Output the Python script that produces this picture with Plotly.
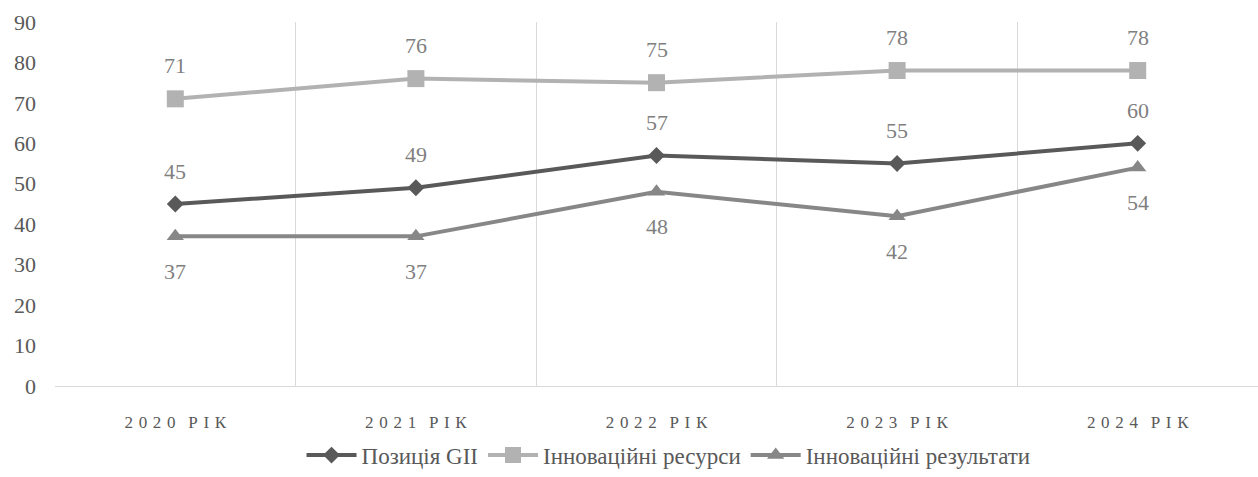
import plotly.graph_objects as go

years = ["2020", "2021", "2022", "2023", "2024"]
suffix = "РІК"

gii_position = [45, 49, 57, 55, 60]
innovation_inputs = [71, 76, 75, 78, 78]
innovation_outputs = [37, 37, 48, 42, 54]

FONT = "serif"
LABEL_COLOR = "#7f7f7f"

# spaced-out axis captions, e.g. "2 0 2 0  Р І К"
SP = "\u2004"
year_labels = [SP.join(y) + "\u2002\u2005" + SP.join(suffix) for y in years]

series = [
    ("Позиція GII", gii_position, "#595959", "diamond", 13, 33),
    ("Інноваційні ресурси", innovation_inputs, "#b2b2b2", "square", 17, 33),
    ("Інноваційні результати", innovation_outputs, "#878787", "triangle-up", 15, -35),
]

fig = go.Figure()
annotations = []
for name, values, color, symbol, size, shift in series:
    fig.add_trace(go.Scatter(
        x=year_labels,
        y=values,
        name=name,
        mode="lines+markers",
        line=dict(color=color, width=4),
        marker=dict(symbol=symbol, size=size, color=color),
    ))
    for xl, v in zip(year_labels, values):
        annotations.append(dict(
            x=xl, y=v, text=str(v), showarrow=False, yshift=shift,
            font=dict(family=FONT, size=22, color=LABEL_COLOR),
        ))

fig.update_layout(
    width=1258,
    height=477,
    margin=dict(l=55, r=0, t=22, b=89),
    paper_bgcolor="white",
    plot_bgcolor="white",
    font=dict(family=FONT, color="#595959"),
    showlegend=True,
    annotations=annotations,
    legend=dict(
        orientation="h",
        x=0.51,
        xanchor="center",
        y=-0.19,
        yanchor="middle",
        font=dict(family=FONT, size=23, color="#595959"),
        itemwidth=50,
    ),
    xaxis=dict(
        type="category",
        range=[-0.5, 4.5],
        tickson="boundaries",
        showgrid=True,
        gridcolor="#d9d9d9",
        gridwidth=1,
        showline=True,
        linecolor="#d9d9d9",
        linewidth=1,
        ticks="",
        ticklabelstandoff=21,
        tickfont=dict(family=FONT, size=17, color="#595959"),
        zeroline=False,
    ),
    yaxis=dict(
        range=[0, 90],
        dtick=10,
        showgrid=False,
        zeroline=False,
        showline=False,
        ticks="",
        ticklabelstandoff=18,
        tickfont=dict(family=FONT, size=22, color="#595959"),
    ),
)

fig.write_html("out.html")
